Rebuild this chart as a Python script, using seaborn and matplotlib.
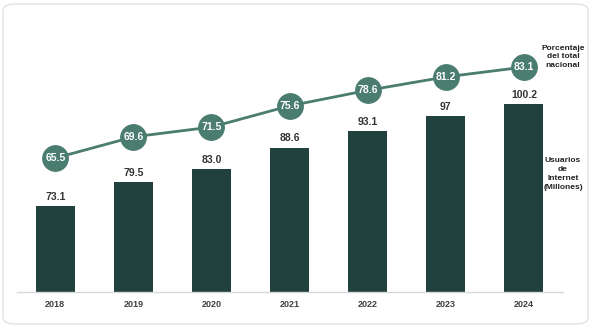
import numpy as np
import pandas as pd
import seaborn as sns
import matplotlib
matplotlib.use("Agg")
import matplotlib.pyplot as plt
from matplotlib.patches import FancyBboxPatch

years = ["2018", "2019", "2020", "2021", "2022", "2023", "2024"]
users = [73.1, 79.5, 83.0, 88.6, 93.1, 97.0, 100.2]
user_labels = ["73.1", "79.5", "83.0", "88.6", "93.1", "97", "100.2"]
pct = [65.5, 69.6, 71.5, 75.6, 78.6, 81.2, 83.1]
pct_labels = ["65.5", "69.6", "71.5", "75.6", "78.6", "81.2", "83.1"]

BAR = "#21413f"
LINE = "#4a7c70"
TXT = "#333333"

sns.set_theme(style="white")
plt.rcParams["font.family"] = ["Liberation Sans", "DejaVu Sans"]

fig = plt.figure(figsize=(5.92, 3.27), dpi=100)
W, H = 592, 327
border = FancyBboxPatch((3 / W, 3 / H), (W - 7) / W, (H - 7) / H,
                        boxstyle="round,pad=0,rounding_size=0.02",
                        transform=fig.transFigure, facecolor="none",
                        edgecolor="#e2e2e2", linewidth=1.0, zorder=-1)
fig.patches.append(border)

left, right = 17 / W, 563 / W
bottom, top = 1 - 292 / H, 1 - 20 / H
ax = fig.add_axes([left, bottom, right - left, top - bottom])
ax.patch.set_alpha(0)

df = pd.DataFrame({"year": years, "users": users, "pct": pct})
sns.barplot(data=df, x="year", y="users", ax=ax, color=BAR, width=0.5,
            saturation=1, edgecolor="none")
ax.bar_label(ax.containers[0], labels=user_labels, padding=3,
             fontsize=7.5, fontweight="bold", color=TXT)
ax.set_ylim(50.25, 122.5)
ax.set_xlim(-0.49, 6.5)
ax.set_yticks([])
ax.set_xlabel("")
ax.set_ylabel("")
for s in ["top", "right", "left"]:
    ax.spines[s].set_visible(False)
ax.spines["bottom"].set_color("#d9d9d9")
ax.spines["bottom"].set_linewidth(1)
ax.tick_params(axis="x", length=0, pad=6, labelsize=6.5, labelcolor="#404040")
for t in ax.get_xticklabels():
    t.set_fontweight("bold")

ax2 = ax.twinx()
xs = np.arange(len(years))
sns.lineplot(x=xs, y=pct, ax=ax2, color=LINE, linewidth=2, marker="o",
             markersize=18.5, markeredgecolor=LINE, markerfacecolor=LINE)
for x, v, lab in zip(xs, pct, pct_labels):
    ax2.text(x, v, lab, ha="center", va="center", color="white",
             fontsize=7.5, fontweight="bold")
ax2.set_ylim(39.6, 92.2)
ax2.set_xlim(-0.49, 6.5)
ax2.set_yticks([])
ax2.set_ylabel("")
for s in ax2.spines.values():
    s.set_visible(False)

fig.text(563 / W, 1 - 57 / H, "Porcentaje\ndel total\nnacional", ha="center",
         va="center", fontsize=6, fontweight="bold", color="#222222",
         linespacing=1.35)
fig.text(563 / W, 1 - 174 / H, "Usuarios\nde\nInternet\n(Millones)", ha="center",
         va="center", fontsize=6, fontweight="bold", color="#222222",
         linespacing=1.35)

fig.savefig("out.png", dpi=100)
